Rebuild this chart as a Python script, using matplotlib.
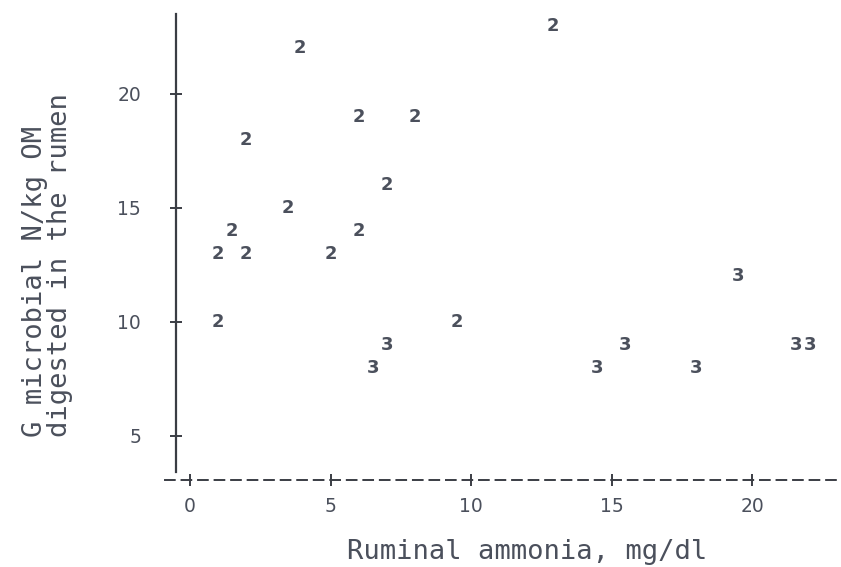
import matplotlib.pyplot as plt

# ruminal ammonia (mg/dl) vs microbial N yield, plotted with SAS-style symbols
ammonia = [3.9, 12.9, 6.0, 8.0, 2.0, 7.0, 3.5, 1.5, 6.0, 1.0, 2.0, 5.0, 1.0, 9.5,
           7.0, 6.5, 14.5, 15.5, 18.0, 19.5, 21.55, 22.05]
microbial_n = [22, 23, 19, 19, 18, 16, 15, 14, 14, 13, 13, 13, 10, 10,
               9, 8, 8, 9, 8, 12, 9, 9]
symbol = ['2'] * 14 + ['3'] * 8

x_ticks = [0, 5, 10, 15, 20]
y_ticks = [5, 10, 15, 20]

ink = '#4b505c'
axis_ink = '#3a3d44'

fig = plt.figure(figsize=(8.41, 5.67), dpi=100)
ax = fig.add_axes([160 / 841, 1 - 490 / 567, 681 / 841, 490 / 567])
ax.set_xlim(-1.068, 23.167)
ax.set_ylim(2.63, 24.12)

for xv, yv, s in zip(ammonia, microbial_n, symbol):
    ax.text(xv, yv, s, ha='center', va='center', fontsize=13,
            fontweight='bold', color=ink, family='DejaVu Sans')

for side in ['top', 'right']:
    ax.spines[side].set_visible(False)

ax.spines['left'].set_position(('data', -0.5))
ax.spines['left'].set_bounds(3.4, 23.5)
ax.spines['left'].set_color(axis_ink)
ax.spines['left'].set_linewidth(1.6)

ax.spines['bottom'].set_position(('data', 3.07))
ax.spines['bottom'].set_bounds(-0.9, 23.2)
ax.spines['bottom'].set_color(axis_ink)
ax.spines['bottom'].set_linewidth(1.4)
ax.spines['bottom'].set_linestyle((0, (5, 3.5)))

ax.set_xticks(x_ticks)
ax.set_yticks(y_ticks)
ax.tick_params(axis='y', direction='inout', length=8, width=1.4, color=axis_ink,
               pad=21, labelsize=13.5, labelcolor=ink)
ax.tick_params(axis='x', direction='inout', length=8, width=1.4, color=axis_ink,
               pad=8, labelsize=13.5, labelcolor=ink)

fig.text(527 / 841, 1 - 552 / 567, 'Ruminal ammonia, mg/dl', ha='center', va='center',
         fontsize=19.5, color=ink, family='DejaVu Sans Mono')
fig.text(48 / 841, 1 - 437 / 567, 'G microbial N/kg OM\ndigested in the rumen',
         rotation=90, ha='center', va='bottom', multialignment='left',
         fontsize=19.5, color=ink, family='DejaVu Sans Mono', linespacing=0.95)

fig.savefig('out.png', dpi=100)
